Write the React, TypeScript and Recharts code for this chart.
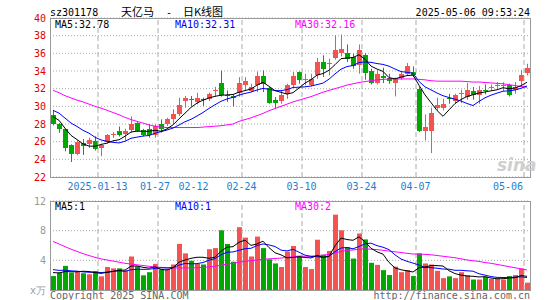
import React from 'react';
import { ComposedChart, Bar, Line, XAxis, YAxis, CartesianGrid, ReferenceLine, Cell } from 'recharts';

// trading days shown on the chart
const dates = (
  '2024-12-31,2025-01-02,2025-01-03,2025-01-06,2025-01-07,2025-01-08,2025-01-09,2025-01-10,' +
  '2025-01-13,2025-01-14,2025-01-15,2025-01-16,2025-01-17,2025-01-20,2025-01-21,2025-01-22,' +
  '2025-01-23,2025-01-24,2025-01-27,2025-02-05,2025-02-06,2025-02-07,2025-02-10,2025-02-11,' +
  '2025-02-12,2025-02-13,2025-02-14,2025-02-17,2025-02-18,2025-02-19,2025-02-20,2025-02-21,' +
  '2025-02-24,2025-02-25,2025-02-26,2025-02-27,2025-02-28,2025-03-03,2025-03-04,2025-03-05,' +
  '2025-03-06,2025-03-07,2025-03-10,2025-03-11,2025-03-12,2025-03-13,2025-03-14,2025-03-17,' +
  '2025-03-18,2025-03-19,2025-03-20,2025-03-21,2025-03-24,2025-03-25,2025-03-26,2025-03-27,' +
  '2025-03-28,2025-03-31,2025-04-01,2025-04-02,2025-04-03,2025-04-07,2025-04-08,2025-04-09,' +
  '2025-04-10,2025-04-11,2025-04-14,2025-04-15,2025-04-16,2025-04-17,2025-04-18,2025-04-21,' +
  '2025-04-22,2025-04-23,2025-04-24,2025-04-25,2025-04-28,2025-04-29,2025-04-30,2025-05-06'
).split(',');

const opens = [
  29.0, 28.0, 27.4, 25.6, 24.65, 25.8, 25.7, 26.05, 25.27, 25.95,
  26.78, 27.2, 26.85, 27.27, 28.1, 27.3, 27.39, 26.79, 28.04, 28.04,
  28.53, 29.1, 30.6, 30.8, 30.49, 30.85, 30.87, 31.82, 32.6, 31.25,
  31.15, 31.5, 32.4, 31.73, 32.37, 33.39, 32.07, 30.67, 30.56, 31.43,
  32.37, 33.88, 33.08, 32.37, 33.5, 35.01, 34.78, 35.46, 36.07, 36.07,
  35.58, 34.63, 35.84, 33.95, 32.63, 33.4, 33.24, 32.63, 33.24, 33.69,
  33.88, 31.99, 27.16, 27.16, 29.8, 29.8, 30.9, 30.59, 31.45, 31.05,
  31.69, 31.23, 31.85, 32.12, 32.3, 32.32, 32.37, 31.8, 32.86, 33.76,
];
const highs = [
  29.5, 28.1, 27.5, 25.7, 26.15, 26.3, 26.45, 26.6, 25.76, 26.87,
  27.08, 27.72, 27.46, 28.86, 28.2, 27.45, 27.96, 27.96, 28.53, 28.72,
  29.66, 30.98, 31.17, 31.17, 31.55, 30.98, 31.55, 32.2, 34.05, 31.8,
  31.35, 33.3, 33.3, 32.56, 33.95, 34.07, 32.18, 31.05, 31.8, 32.56,
  33.88, 33.95, 33.69, 33.69, 35.5, 35.77, 35.39, 38.03, 38.14, 37.01,
  35.95, 37.01, 36.03, 34.26, 34.07, 34.37, 33.69, 33.24, 33.88, 34.9,
  34.52, 32.18, 29.08, 29.84, 30.97, 30.86, 31.42, 31.42, 31.88, 32.63,
  32.18, 32.29, 32.48, 32.48, 32.74, 32.74, 32.56, 32.74, 34.14, 34.82,
];
const lows = [
  27.85, 27.0, 24.9, 23.7, 24.45, 24.5, 25.3, 25.0, 24.35, 25.8,
  26.44, 26.59, 26.14, 27.0, 27.1, 26.6, 26.45, 26.45, 27.02, 27.77,
  27.96, 28.9, 29.85, 30.04, 30.23, 30.04, 30.6, 31.1, 31.1, 30.5,
  30.0, 31.1, 31.75, 31.61, 31.61, 31.61, 30.29, 29.8, 30.29, 30.86,
  32.18, 32.56, 32.37, 32.26, 33.12, 33.31, 33.5, 35.28, 35.65, 35.01,
  34.26, 33.69, 33.01, 32.48, 32.48, 32.63, 32.56, 31.12, 33.01, 33.5,
  33.31, 27.08, 26.14, 24.71, 29.54, 29.54, 30.29, 30.29, 30.36, 30.74,
  30.74, 30.29, 31.35, 31.8, 31.88, 31.73, 31.12, 31.42, 32.37, 33.5,
];
const closes = [
  28.0, 27.4, 25.3, 24.55, 25.95, 25.55, 26.15, 25.2, 25.57, 26.7,
  26.85, 26.75, 27.2, 27.95, 27.2, 26.8, 26.72, 27.77, 27.4, 28.53,
  29.1, 30.11, 30.98, 30.68, 30.98, 30.75, 31.36, 31.9, 31.3, 31.15,
  31.0, 32.65, 32.82, 32.18, 33.39, 32.56, 30.37, 30.37, 31.24, 32.37,
  33.39, 33.01, 33.15, 33.12, 35.01, 34.26, 34.85, 36.33, 36.52, 35.39,
  34.56, 36.41, 33.77, 32.67, 33.69, 33.25, 32.86, 33.12, 33.61, 34.56,
  33.5, 27.16, 27.65, 29.24, 30.1, 30.21, 30.8, 31.23, 31.52, 31.8,
  31.23, 31.8, 31.75, 32.2, 32.38, 32.4, 31.23, 32.18, 33.5, 34.37,
];
// volume, 万手
const volumes = [
  1.88, 2.35, 3.25, 2.35, 2.45, 2.26, 2.12, 2.54, 1.84, 3.1,
  2.92, 2.92, 2.64, 4.52, 3.2, 1.98, 2.4, 3.53, 2.78, 2.82,
  3.44, 6.21, 4.94, 3.95, 3.53, 3.44, 5.5, 5.65, 8.05, 6.21,
  3.81, 8.47, 7.06, 4.52, 7.2, 5.65, 4.14, 3.58, 3.1, 5.18,
  5.93, 4.61, 3.1, 2.82, 6.78, 4.75, 5.27, 10.16, 8.05, 5.79,
  4.24, 7.62, 6.82, 3.67, 3.39, 2.68, 2.02, 3.15, 2.4, 2.68,
  1.88, 4.94, 3.58, 3.44, 2.59, 1.6, 1.84, 1.6, 2.4, 1.98,
  1.41, 1.41, 1.79, 1.5, 1.5, 1.41, 1.88, 2.02, 2.92, 0.99,
];
// sessions before the window (estimated from where the MA lines start)
const prevCloses = [30.6, 30.9, 30.2, 29.8, 29.9, 29.4, 29.8, 28.6, 28.3];
const prevVolumes = [3.4, 3.0, 3.2, 2.9, 3.25, 2.6, 2.3, 2.5, 2.47];
// MA30 lines
const ma30 = [
  31.8, 31.55, 31.2, 30.95, 30.7, 30.5, 30.25, 30.0, 29.8, 29.55,
  29.3, 29.05, 28.75, 28.5, 28.3, 28.1, 27.9, 27.75, 27.65, 27.6,
  27.6, 27.6, 27.6, 27.6, 27.6, 27.65, 27.7, 27.75, 27.8, 27.9,
  28.0, 28.3, 28.5, 28.7, 28.95, 29.2, 29.5, 29.75, 30.0, 30.25,
  30.5, 30.7, 30.9, 31.1, 31.35, 31.6, 31.8, 32.0, 32.2, 32.4,
  32.55, 32.7, 32.8, 32.9, 33.0, 33.05, 33.1, 33.1, 33.1, 33.1,
  33.1, 33.05, 33.0, 32.9, 32.85, 32.85, 32.85, 32.85, 32.85, 32.8,
  32.75, 32.75, 32.7, 32.65, 32.6, 32.55, 32.45, 32.35, 32.25, 32.16,
];
const volMa30 = [
  6.55, 6.2, 5.85, 5.5, 5.2, 4.9, 4.65, 4.4, 4.2, 4.05,
  3.9, 3.75, 3.6, 3.5, 3.4, 3.3, 3.2, 3.1, 3.05, 3.0,
  2.98, 2.97, 2.97, 2.98, 3.0, 3.05, 3.12, 3.2, 3.35, 3.5,
  3.6, 3.75, 3.85, 3.95, 4.05, 4.15, 4.2, 4.25, 4.3, 4.4,
  4.5, 4.55, 4.55, 4.55, 4.65, 4.7, 4.8, 5.0, 5.2, 5.35,
  5.4, 5.5, 5.55, 5.5, 5.45, 5.35, 5.25, 5.15, 5.05, 4.95,
  4.85, 4.85, 4.8, 4.75, 4.65, 4.55, 4.45, 4.35, 4.2, 4.05,
  3.95, 3.85, 3.7, 3.6, 3.45, 3.3, 3.15, 3.0, 2.85, 2.7,
];

const tickDates = ['2025-01-13', '2025-01-27', '2025-02-12', '2025-02-24', '2025-03-10', '2025-03-24', '2025-04-07', '2025-05-06'];
const tickTexts = ['2025-01-13', '01-27', '02-12', '02-24', '03-10', '03-24', '04-07', '05-06'];
const gridDates = ['2025-01-13', '2025-01-27', '2025-02-24', '2025-03-10', '2025-03-24', '2025-04-07', '2025-05-06'];
const priceTicks = [22, 24, 26, 28, 30, 32, 34, 36, 38, 40];
const volTicks = [0, 4, 8, 12];

const RED = '#f55252';
const GREEN = '#00a800';
const MONO = '"DejaVu Sans Mono", "Liberation Mono", monospace';

function movingAvg(series: number[], prev: number[], n: number) {
  const all = [...prev, ...series];
  return series.map((_, i) => {
    const end = i + prev.length;
    let s = 0;
    for (let k = end - n + 1; k <= end; k++) s += all[k];
    return s / n;
  });
}

const ma5 = movingAvg(closes, prevCloses, 5);
const ma10 = movingAvg(closes, prevCloses, 10);
const vma5 = movingAvg(volumes, prevVolumes, 5);
const vma10 = movingAvg(volumes, prevVolumes, 10);

const rows = dates.map((date, i) => ({
  date,
  open: opens[i],
  high: highs[i],
  low: lows[i],
  close: closes[i],
  range: [lows[i], highs[i]],
  vol: volumes[i],
  ma5: ma5[i],
  ma10: ma10[i],
  ma30: ma30[i],
  vma5: vma5[i],
  vma10: vma10[i],
  vma30: volMa30[i],
}));

const Candle = (props: any) => {
  const { x, y, width, height, payload } = props;
  const { open, close, high, low } = payload;
  const k = high === low ? 0 : height / (high - low);
  const py = (v: number) => y + (high - v) * k;
  const color = close >= open ? RED : GREEN;
  const cx = Math.floor(x + width / 2) + 0.5;
  const top = py(Math.max(open, close));
  const bot = py(Math.min(open, close));
  return (
    <g>
      <line x1={cx} x2={cx} y1={y} y2={y + height} stroke={color} strokeWidth={1} />
      <rect x={cx - 2.5} y={top} width={5} height={Math.max(1, bot - top)} fill={color} shapeRendering="crispEdges" />
    </g>
  );
};

const DateTick = (props: any) => {
  const { x, payload } = props;
  const idx = tickDates.indexOf(payload.value);
  if (idx < 0) return <g />;
  const last = idx === tickDates.length - 1;
  const nudge = payload.value === '2025-01-27' ? -2.5 : 0;
  return (
    <text x={last ? x - 4 : x - 3.5 + nudge} y={190} textAnchor={last ? 'end' : 'middle'}
      fontFamily={MONO} fontSize={10} fill="#1f7fcf">
      {tickTexts[idx]}
    </text>
  );
};

const PriceTick = (props: any) => {
  const { y, payload } = props;
  return (
    <text x={46} y={y + 3.5} textAnchor="end" fontFamily={MONO} fontSize={10} fill="#e00000">
      {payload.value}
    </text>
  );
};

const VolTick = (props: any) => {
  const { y, payload } = props;
  return (
    <text x={46} y={y + 3.5} textAnchor="end" fontFamily={MONO} fontSize={10} fill="#999">
      {payload.value === 0 ? 'x万' : payload.value}
    </text>
  );
};

const frame = (top: number, height: number): React.CSSProperties => ({
  position: 'absolute', left: 50, top, width: 481, height, boxSizing: 'border-box',
  border: '1px solid #999', pointerEvents: 'none',
});

export default function App() {
  return (
    <div style={{ position: 'absolute', left: 0, top: 0, width: 545, height: 300, background: '#fff', overflow: 'hidden' }}>
      <div style={{ position: 'absolute', left: 0, top: 0 }}>
        <ComposedChart width={545} height={200} data={rows} margin={{ top: 18, right: 15, bottom: 0, left: 0 }}>
          <CartesianGrid vertical={false} stroke="#aaa" strokeDasharray="1 2" />
          <XAxis dataKey="date" interval={0} height={23} tickLine={false} axisLine={false} tick={<DateTick />} />
          <YAxis domain={[22, 40]} ticks={priceTicks} interval={0} width={50} tickLine={false} axisLine={false} tick={<PriceTick />} />
          {gridDates.map((d) => (
            <ReferenceLine key={d} x={d} position="start" stroke="#aaa" strokeDasharray="5 3" />
          ))}
          <Bar dataKey="range" barSize={5} shape={<Candle />} isAnimationActive={false} />
          <Line dataKey="ma30" stroke="#ff00ff" strokeWidth={1} dot={false} isAnimationActive={false} />
          <Line dataKey="ma10" stroke="#0000ff" strokeWidth={1} dot={false} isAnimationActive={false} />
          <Line dataKey="ma5" stroke="#000" strokeWidth={1} dot={false} isAnimationActive={false} />
        </ComposedChart>
      </div>
      <div style={{ position: 'absolute', left: 0, top: 190 }}>
        <ComposedChart width={545} height={110} data={rows} margin={{ top: 11, right: 15, bottom: 10, left: 0 }}>
          <CartesianGrid vertical={false} stroke="#aaa" strokeDasharray="1 2" />
          <XAxis dataKey="date" hide />
          <YAxis domain={[0, 12]} ticks={volTicks} interval={0} width={50} tickLine={false} axisLine={false} tick={<VolTick />} />
          {gridDates.map((d) => (
            <ReferenceLine key={d} x={d} position="start" stroke="#aaa" strokeDasharray="5 3" />
          ))}
          <Bar dataKey="vol" barSize={5} isAnimationActive={false}>
            {rows.map((r) => (
              <Cell key={r.date} fill={r.close >= r.open ? RED : GREEN} />
            ))}
          </Bar>
          <Line dataKey="vma30" stroke="#ff00ff" strokeWidth={1} dot={false} isAnimationActive={false} />
          <Line dataKey="vma10" stroke="#0000ff" strokeWidth={1} dot={false} isAnimationActive={false} />
          <Line dataKey="vma5" stroke="#000" strokeWidth={1} dot={false} isAnimationActive={false} />
        </ComposedChart>
      </div>
      <div style={frame(18, 160)} />
      <div style={frame(201, 90)} />
      <svg width={545} height={300} style={{ position: 'absolute', left: 0, top: 0, pointerEvents: 'none' }}>
        <text x={50} y={16} fontFamily={MONO} fontSize={10} fill="#000">sz301178</text>
        <text x={121} y={16} fontFamily='"Noto Sans CJK SC", sans-serif' fontSize={11} fill="#000">天亿马</text>
        <text x={166} y={16} fontFamily={MONO} fontSize={10} fill="#000">-</text>
        <text x={183} y={16} fontFamily='"Noto Sans CJK SC", sans-serif' fontSize={11} fill="#000">日K线图</text>
        <text x={530} y={16} textAnchor="end" fontFamily={MONO} fontSize={10} fill="#000">2025-05-06 09:53:24</text>
        <text x={55} y={28} fontFamily={MONO} fontSize={10} fill="#000">MA5:32.78</text>
        <text x={175} y={28} fontFamily={MONO} fontSize={10} fill="#0000ff">MA10:32.31</text>
        <text x={295} y={28} fontFamily={MONO} fontSize={10} fill="#ff00ff">MA30:32.16</text>
        <text x={55} y={210} fontFamily={MONO} fontSize={10} fill="#000">MA5:1</text>
        <text x={175} y={210} fontFamily={MONO} fontSize={10} fill="#0000ff">MA10:1</text>
        <text x={295} y={210} fontFamily={MONO} fontSize={10} fill="#ff00ff">MA30:2</text>
        <text x={497} y={171} fontFamily="DejaVu Sans, sans-serif" fontStyle="italic" fontWeight="bold" fontSize={17} fill="#cfcfcf">sina</text>
        <text x={50} y={299} fontFamily={MONO} fontSize={10} fill="#666">Copyright 2025 SINA.COM</text>
        <text x={530} y={299} textAnchor="end" fontFamily={MONO} fontSize={10} fill="#666">http://finance.sina.com.cn</text>
      </svg>
    </div>
  );
}
